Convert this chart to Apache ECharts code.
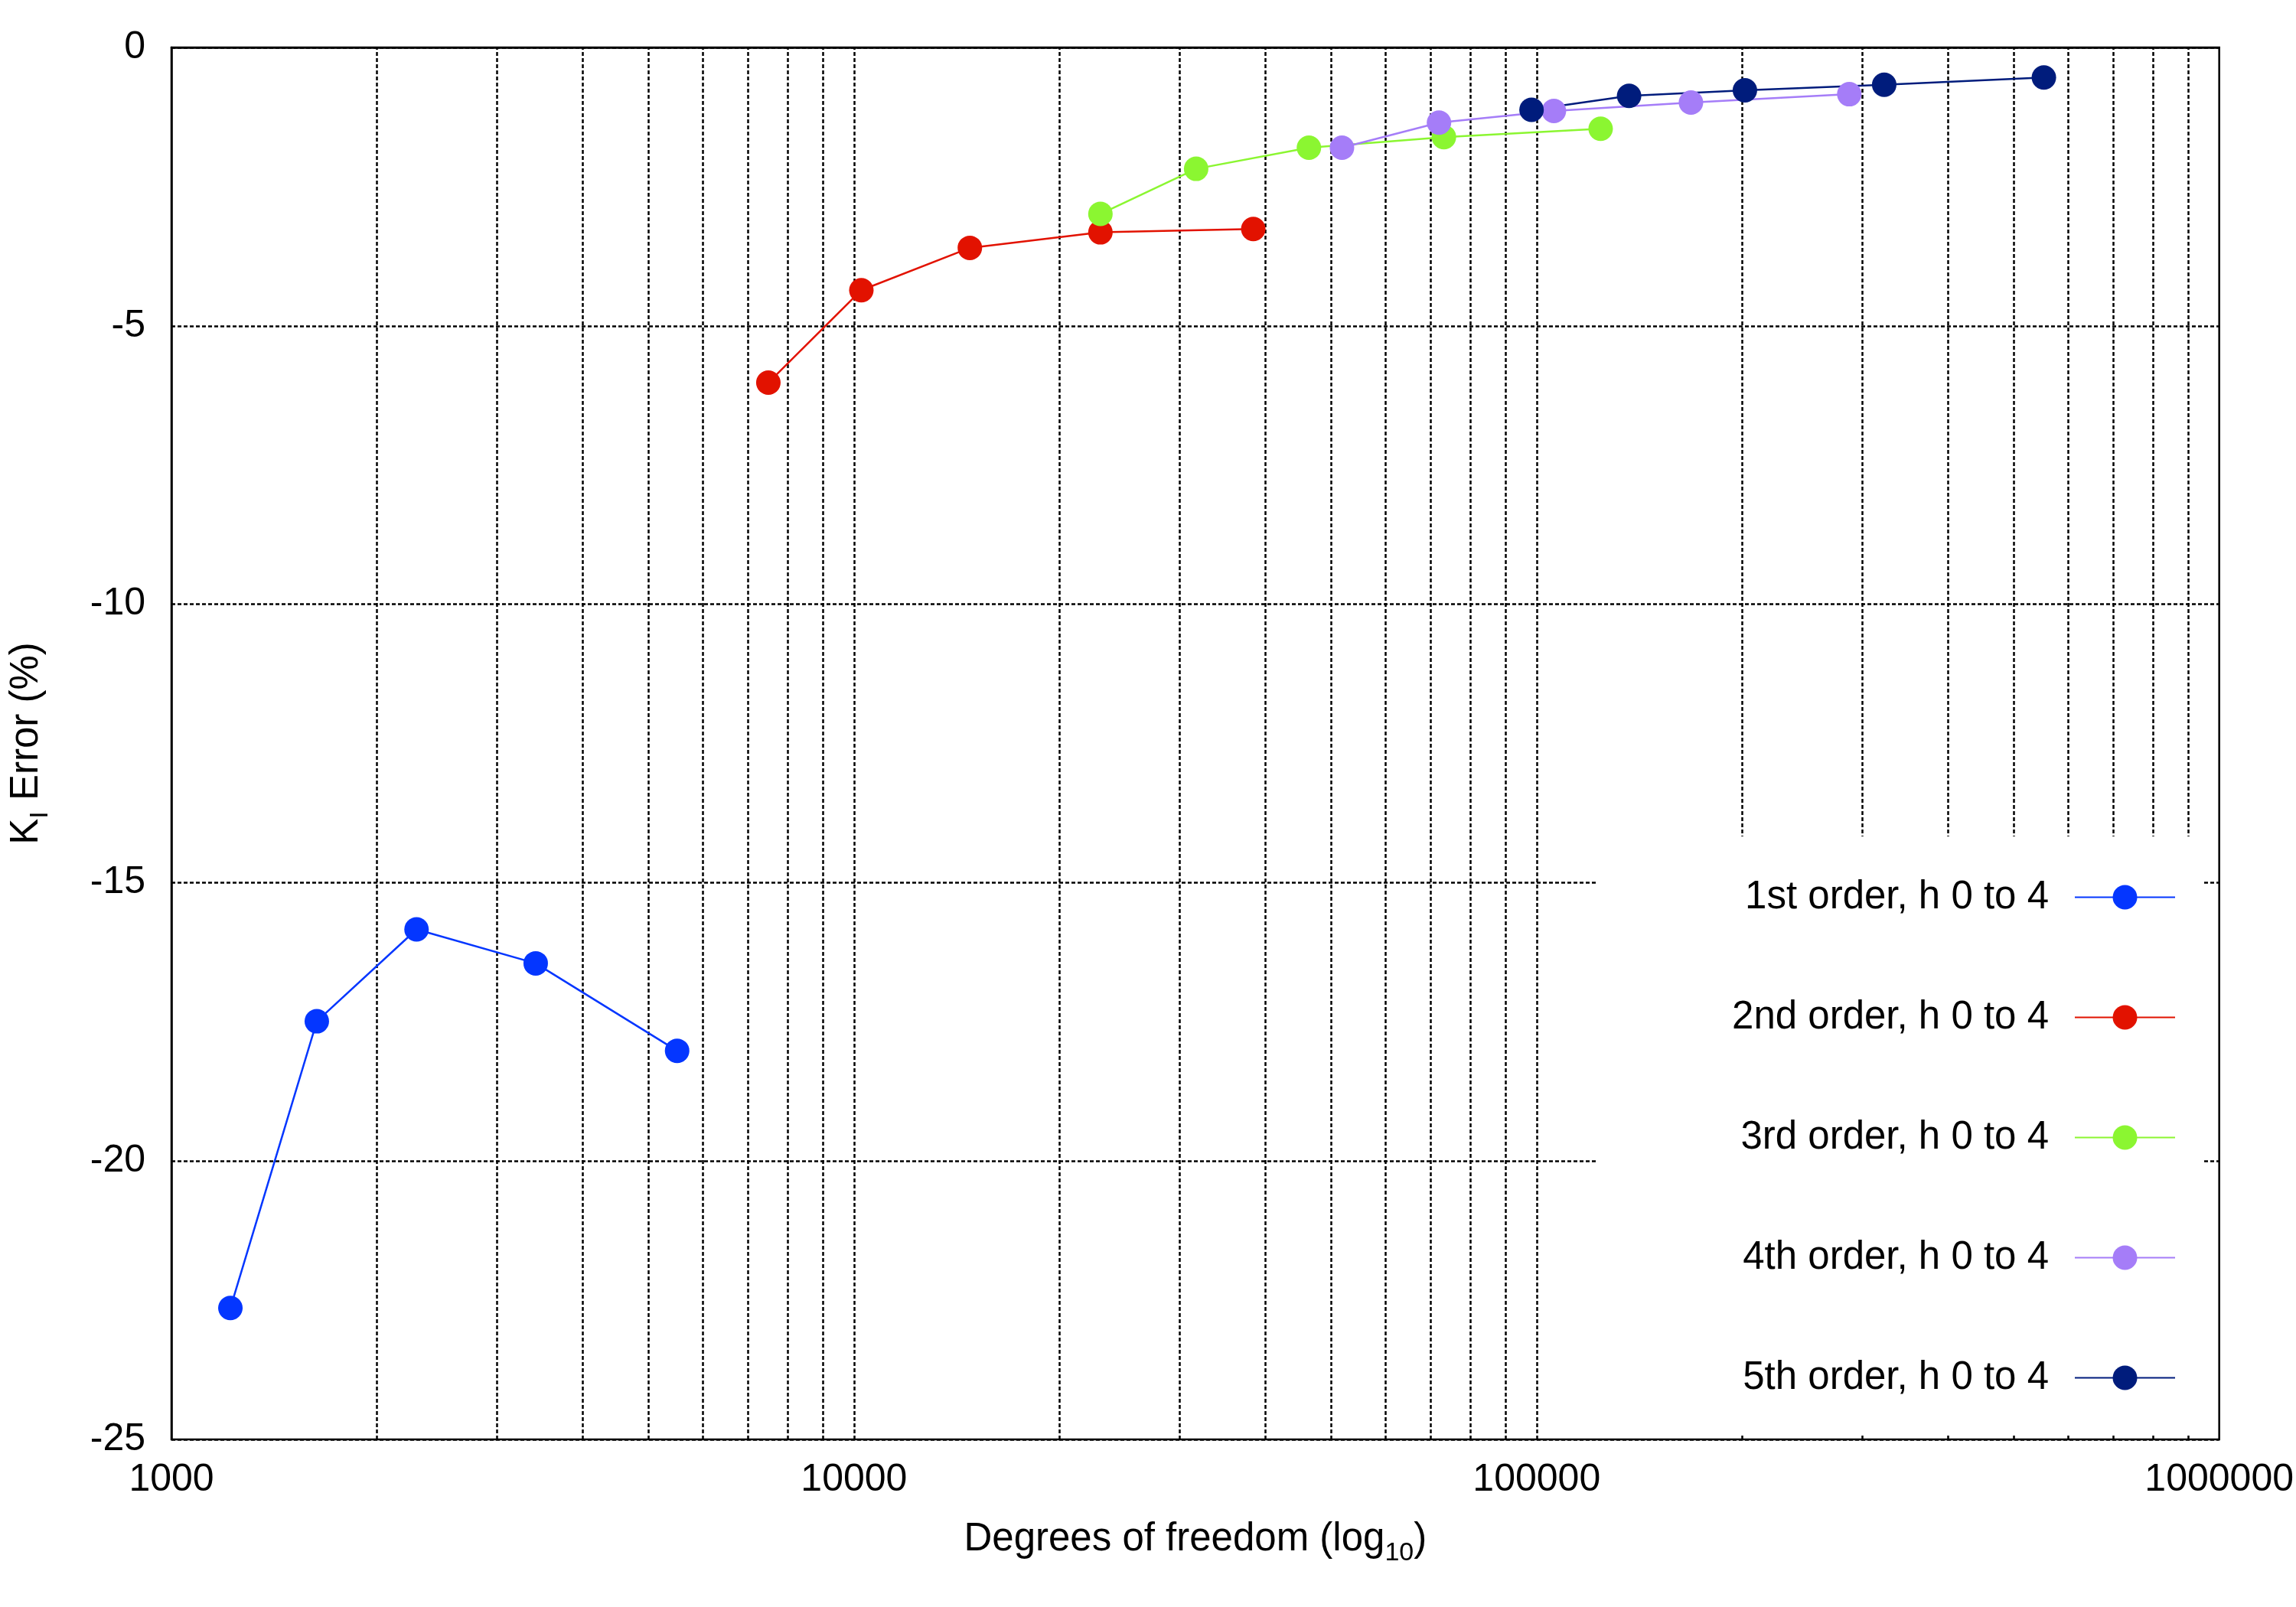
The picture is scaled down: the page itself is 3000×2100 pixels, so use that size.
<!DOCTYPE html>
<html>
<head>
<meta charset="utf-8">
<script src="https://cdn.jsdelivr.net/npm/echarts@6/dist/echarts.min.js"></script>
<style>
html,body{margin:0;padding:0;background:#fff;}
#chart{width:3000px;height:2100px;}
</style>
</head>
<body>
<div id="chart"></div>
<script>
// ---- data ----
const seriesNames = ['1st order, h 0 to 4', '2nd order, h 0 to 4', '3rd order, h 0 to 4', '4th order, h 0 to 4', '5th order, h 0 to 4'];
const order1X = [1220, 1633, 2286, 3417, 5506];
const order1Y = [-22.64, -17.49, -15.84, -16.45, -18.02];
const order2X = [7490, 10250, 14780, 22960, 38450];
const order2Y = [-6.02, -4.36, -3.60, -3.32, -3.26];
const order3X = [22960, 31710, 46390, 73140, 124100];
const order3Y = [-2.99, -2.18, -1.80, -1.61, -1.46];
const order4X = [51860, 71940, 106000, 168300, 287100];
const order4Y = [-1.80, -1.35, -1.14, -0.99, -0.84];
const order5X = [98300, 136600, 201900, 323000, 553500];
const order5Y = [-1.12, -0.87, -0.77, -0.67, -0.54];
const xTickValues = [1000, 10000, 100000, 1000000];
const xGridValues = [2000, 3000, 4000, 5000, 6000, 7000, 8000, 9000, 10000,
  20000, 30000, 40000, 50000, 60000, 70000, 80000, 90000, 100000,
  200000, 300000, 400000, 500000, 600000, 700000, 800000, 900000];
const yTickValues = [0, -5, -10, -15, -20, -25];

const colors = ['#0436FF', '#E21200', '#8BF631', '#A57DF8', '#001C7C'];
const FONT = "'Liberation Sans', Arial, Helvetica, sans-serif";

function pairs(xs, ys) { return xs.map((x, i) => [x, ys[i]]); }
const allX = [order1X, order2X, order3X, order4X, order5X];
const allY = [order1Y, order2Y, order3Y, order4Y, order5Y];

const gridLineStyle = { color: '#000', width: 2.5, type: [5, 3] };

const dataSeries = seriesNames.map((name, i) => ({
  name: name,
  type: 'line',
  data: pairs(allX[i], allY[i]),
  symbol: 'circle',
  symbolSize: 32,
  itemStyle: { color: colors[i] },
  lineStyle: { color: colors[i], width: 2.5 },
  z: 5
}));

const gridSeries = {
  name: 'xgrid',
  type: 'line',
  data: [],
  silent: true,
  z: 1,
  markLine: {
    silent: true,
    z: 1,
    symbol: ['none', 'none'],
    label: { show: false },
    lineStyle: gridLineStyle,
    emphasis: { disabled: true },
    animation: false,
    data: xGridValues.map(v => ({ xAxis: v }))
  }
};

const nameRich = {
  m: { fontSize: 51, lineHeight: 70, fontFamily: FONT, color: '#000' },
  s: { fontSize: 34, lineHeight: 30, verticalAlign: 'bottom', fontFamily: FONT, color: '#000' }
};

const chart = echarts.init(document.getElementById('chart'), null, { renderer: 'canvas' });
chart.setOption({
  animation: false,
  backgroundColor: '#fff',
  grid: {
    left: 224, right: 93, top: 62, bottom: 219,
    containLabel: false,
    show: true, borderColor: '#000', borderWidth: 2.5, backgroundColor: 'transparent'
  },
  xAxis: {
    type: 'log',
    logBase: 10,
    min: xTickValues[0],
    max: xTickValues[xTickValues.length - 1],
    name: '{m|Degrees of freedom (log}{s|10}{m|)}',
    nameLocation: 'middle',
    nameGap: 96,
    nameTextStyle: { rich: nameRich },
    axisLine: { show: true, lineStyle: { color: '#000', width: 2.5 } },
    axisTick: { show: false },
    minorTick: { show: false },
    splitLine: { show: false },
    axisLabel: {
      fontSize: 50, fontFamily: FONT, color: '#000', margin: 28,
      formatter: v => String(Math.round(v))
    },
    z: 4
  },
  yAxis: {
    type: 'value',
    min: yTickValues[yTickValues.length - 1],
    max: yTickValues[0],
    interval: 5,
    name: '{m|K}{s|I}{m| Error (%)}',
    nameLocation: 'middle',
    nameGap: 154,
    nameTextStyle: { rich: nameRich },
    axisLine: { show: true, lineStyle: { color: '#000', width: 2.5 } },
    axisTick: { show: false },
    splitLine: { show: true, lineStyle: gridLineStyle },
    axisLabel: { fontSize: 50, fontFamily: FONT, color: '#000', margin: 34 }
  },
  legend: {
    data: seriesNames,
    orient: 'vertical',
    align: 'right',
    right: 157,
    top: 1147,
    padding: 0,
    itemWidth: 131,
    itemHeight: 40,
    itemGap: 106,
    textStyle: { fontSize: 51, fontFamily: FONT, color: '#000', lineHeight: 40, padding: [0, 29, 0, 0] },
    z: 6
  },
  graphic: {
    elements: [{
      type: 'rect',
      left: 2087, top: 1093,
      shape: { width: 790, height: 783 },
      style: { fill: '#fff' },
      silent: true,
      z: 3
    }]
  },
  series: [gridSeries].concat(dataSeries)
});
</script>
</body>
</html>
